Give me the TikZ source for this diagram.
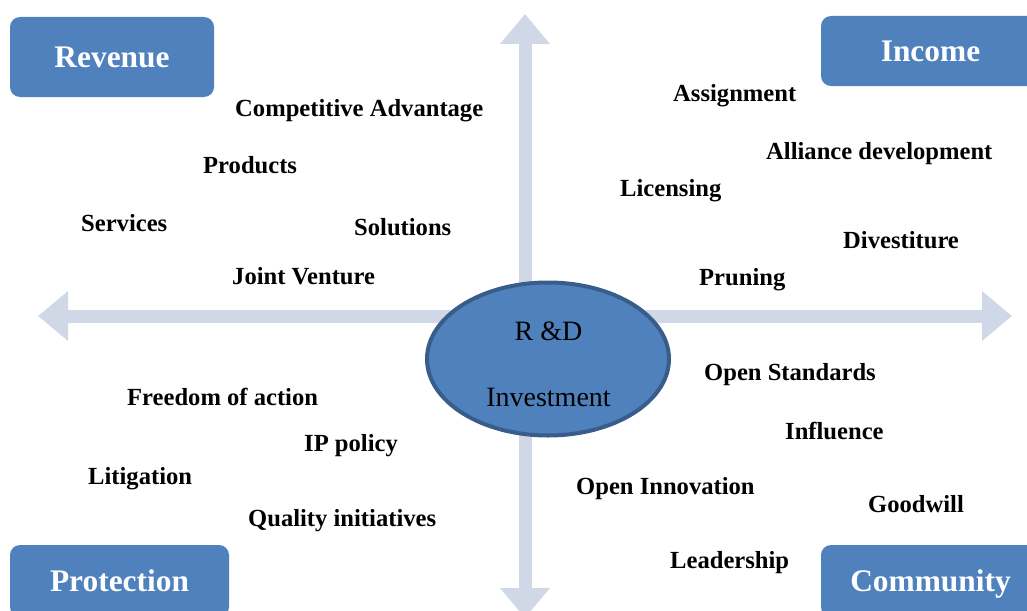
\documentclass[tikz,border=0pt]{standalone}
\usepackage{fontspec}
\setmainfont{Liberation Serif}
\usetikzlibrary{arrows.meta,shapes.geometric}
\definecolor{boxblue}{RGB}{79,129,189}
\definecolor{edgeblue}{RGB}{56,93,138}
\definecolor{axisgray}{RGB}{208,216,232}
\tikzset{
  catbox/.style={fill=boxblue, draw=none, rounded corners=10pt, inner sep=0pt,
    text=white, font=\bfseries\fontsize{31.4}{36}\selectfont, text height=21pt, text depth=0pt},
  axis/.style={draw=axisgray, line width=13pt,
    -{Triangle[width=48pt,length=30pt]}},
  lbl/.style={anchor=base west, inner sep=0pt, font=\bfseries\fontsize{24.6}{28}\selectfont},
  ctext/.style={anchor=base, inner sep=0pt, font=\fontsize{28}{32}\selectfont},
}
\begin{document}
\begin{tikzpicture}[x=1pt,y=-1pt]
\useasboundingbox (0,0) rectangle (1027,610);
\clip (0,0) rectangle (1027,610);
% axes
\coordinate (o) at (525,316);
\coordinate (tl) at (38,316);
\coordinate (tr) at (1012,316);
\coordinate (tt) at (525,14);
\coordinate (tb) at (525,618);
\draw[axis] (o) -- (tl);
\draw[axis] (o) -- (tr);
\draw[axis] (o) -- (tt);
\draw[axis] (o) -- (tb);
% central ellipse
\node[ellipse, fill=boxblue, draw=edgeblue, line width=4pt,
      minimum width=242pt, minimum height=153pt, inner sep=0pt] (rd) at (548,359) {};
\node[ctext] (rdt1) at (548.5,340) {R \&D};
\node[ctext] (rdt2) at (548.5,406) {Investment};
% category boxes
\node[catbox, minimum width=204pt, minimum height=80pt] (rev) at (112,57) {Revenue};
\node[catbox, minimum width=219pt, minimum height=70pt] (inc) at (930.5,51) {Income};
\node[catbox, minimum width=219pt, minimum height=72pt] (pro) at (119.5,581) {Protection};
\node[catbox, minimum width=219pt, minimum height=72pt] (com) at (930.5,581) {Community};
% labels
\node[lbl] (l1) at (235,116) {Competitive Advantage};
\node[lbl] (l2) at (203,173) {Products};
\node[lbl] (l3) at (81,231) {Services};
\node[lbl] (l4) at (354,235) {Solutions};
\node[lbl] (l5) at (232,284) {Joint Venture};
\node[lbl] (r1) at (673,101) {Assignment};
\node[lbl] (r2) at (766,159) {Alliance development};
\node[lbl] (r3) at (620,196) {Licensing};
\node[lbl] (r4) at (843,248) {Divestiture};
\node[lbl] (r5) at (699,285) {Pruning};
\node[lbl] (c1) at (704,380) {Open Standards};
\node[lbl] (c2) at (785,439) {Influence};
\node[lbl] (c3) at (868,512) {Goodwill};
\node[lbl] (c4) at (576,494) {Open Innovation};
\node[lbl] (c5) at (670,568) {Leadership};
\node[lbl] (p1) at (127,405) {Freedom of action};
\node[lbl] (p2) at (304,451) {IP policy};
\node[lbl] (p3) at (88,484) {Litigation};
\node[lbl] (p4) at (248,526) {Quality initiatives};
\end{tikzpicture}
\end{document}
